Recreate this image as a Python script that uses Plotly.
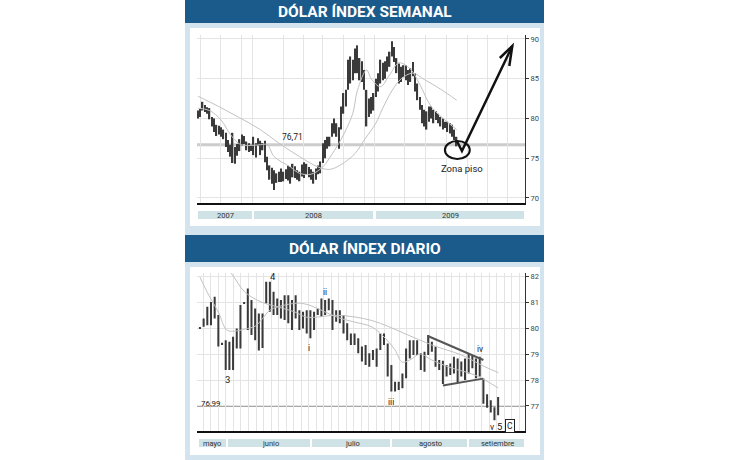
import plotly.graph_objects as go

W, H = 730, 460

# ---------------- DATA: weekly panel ----------------
weekly_high = [81.0, 81.2, 82.1, 81.7, 81.4, 81.3, 80.2, 80.0, 79.2, 79.1, 78.9, 78.6, 78.2, 77.3, 76.7, 78.2,
               76.4, 76.8, 77.4, 78.0, 77.8, 77.1, 76.9, 76.7, 77.7, 76.9, 77.5, 77.2, 76.9, 77.2, 75.2, 74.1,
               73.8, 73.5, 73.1, 73.3, 73.7, 73.3, 73.6, 74.1, 73.9, 74.3, 74.0, 73.5, 73.3, 74.2, 74.5, 74.3,
               73.9, 73.6, 73.3, 73.7, 74.1, 74.6, 76.9, 77.3, 77.7, 77.7, 79.4, 80.0, 79.4, 78.9, 81.5, 83.2,
               83.6, 87.4, 87.8, 87.4, 88.8, 89.2, 87.6, 87.2, 86.1, 83.6, 82.5, 82.7, 83.2, 85.0, 85.7, 87.4,
               87.0, 87.2, 87.8, 88.4, 89.7, 89.0, 87.6, 86.9, 86.5, 86.7, 86.7, 86.1, 86.3, 87.1, 85.7, 84.4,
               82.7, 81.7, 81.1, 80.9, 81.5, 81.5, 81.1, 80.9, 80.6, 80.2, 80.0, 79.6, 79.6, 79.4, 79.2, 78.6,
               77.7]
weekly_low = [80.0, 80.2, 81.0, 80.8, 80.6, 79.9, 79.0, 78.3, 77.8, 78.0, 77.7, 77.4, 76.4, 75.8, 75.2, 74.4,
              74.3, 75.3, 75.9, 76.6, 76.8, 76.0, 75.8, 75.9, 75.4, 75.1, 76.6, 75.4, 76.0, 74.5, 73.5, 72.3,
              71.8, 71.0, 71.9, 72.0, 72.0, 72.1, 72.4, 72.2, 71.8, 72.6, 72.5, 72.3, 72.1, 72.7, 72.5, 73.0,
              72.6, 72.3, 71.8, 72.3, 73.0, 73.1, 74.4, 75.0, 76.2, 76.5, 77.7, 78.1, 77.7, 76.2, 78.6, 80.6,
              81.5, 83.6, 84.4, 84.8, 85.7, 85.7, 84.8, 84.6, 83.6, 79.0, 80.2, 80.6, 81.0, 82.7, 83.4, 84.4,
              84.8, 85.0, 85.9, 86.5, 87.8, 87.1, 85.7, 84.4, 84.6, 85.2, 84.8, 84.2, 84.6, 85.3, 83.4, 82.3,
              81.1, 79.4, 79.0, 78.6, 79.6, 80.0, 79.4, 79.8, 79.4, 79.0, 78.6, 78.8, 78.3, 78.1, 77.7, 77.3,
              76.5]
weekly_ma_slow_week = [0, 9, 18, 27, 35, 44, 52, 57, 62, 68, 72, 77, 80, 84, 88, 93, 98, 105, 112]
weekly_ma_slow = [82.8, 81.5, 80.1, 78.6, 76.9, 75.2, 73.9, 73.6, 74.2, 75.6, 77.3, 79.4, 81.3, 83.5, 85.0,
                  85.7, 84.9, 83.7, 82.3]
weekly_ma_fast_week = [0, 5, 10, 14, 18, 22, 27, 30, 33, 40, 44, 49, 54, 58, 62, 67, 69, 73, 75, 79, 83, 87,
                       92, 96, 101, 107, 112]
weekly_ma_fast = [81.3, 81.0, 79.8, 78.0, 76.8, 76.6, 76.7, 76.7, 75.2, 73.9, 73.1, 73.0, 73.9, 75.5, 77.4,
                  80.6, 83.5, 86.1, 85.0, 84.0, 85.5, 87.0, 86.2, 84.3, 81.5, 79.8, 78.6]
weekly_support = 76.71
weekly_ticks = [70, 75, 80, 85, 90]
weekly_years = ["2007", "2008", "2009"]

# ---------------- DATA: daily panel ----------------
daily_high = [80.06, 80.39, 80.84, 81.03, 81.23, 80.52, 79.45, 79.55, 79.49, 79.68, 80.00, 80.91, 81.03, 81.55,
              81.10, 80.78, 80.58, 80.58, 81.81, 81.81, 81.42, 81.16, 81.10, 81.29, 81.29, 81.10, 81.29, 80.71,
              80.65, 80.71, 80.71, 80.65, 80.78, 81.16, 81.10, 81.16, 81.10, 80.71, 80.71, 80.52, 80.20, 79.81,
              79.81, 79.62, 79.30, 79.36, 79.04, 79.17, 79.23, 79.81, 79.81, 79.42, 78.59, 77.94, 77.94, 78.26,
              79.23, 79.55, 79.55, 79.55, 79.04, 79.10, 79.75, 79.49, 79.30, 78.78, 78.75, 78.59, 78.65, 78.91,
              78.84, 78.72, 78.84, 79.04, 78.97, 78.84, 78.91, 78.06, 77.45, 77.22, 76.95, 77.35]
daily_low = [80.00, 80.07, 80.13, 80.13, 80.39, 79.30, 79.39, 78.39, 78.39, 78.39, 79.23, 79.23, 80.97, 79.94,
             79.75, 79.55, 79.15, 79.25, 80.97, 80.65, 80.52, 80.52, 80.39, 80.33, 80.20, 79.94, 80.39, 79.94,
             80.00, 79.81, 79.62, 79.94, 80.52, 80.46, 80.52, 80.71, 79.94, 80.26, 80.20, 79.81, 79.55, 79.36,
             79.36, 79.04, 78.72, 78.59, 78.52, 78.78, 78.52, 79.17, 79.36, 78.14, 77.56, 77.56, 77.62, 77.69,
             78.07, 78.84, 78.97, 78.97, 78.39, 78.33, 78.97, 79.10, 78.52, 78.39, 77.85, 78.14, 78.20, 78.26,
             77.88, 78.14, 78.01, 78.26, 78.46, 78.07, 78.14, 77.09, 76.93, 76.75, 76.45, 76.64]
daily_ma_slow_day = [6, 8.6, 12.2, 16.8, 21.3, 25.8, 29.0, 37.6, 46.7, 55.7, 63.0, 71.1, 77.4, 81.1]
daily_ma_slow = [82.5, 82.12, 81.41, 81.02, 80.83, 80.64, 80.44, 80.51, 80.31, 79.80, 79.36, 78.97, 78.52, 78.29]
daily_ma_fast_day = [0, 2.4, 5, 7.3, 9.5, 12.2, 15, 17.1, 19, 23.1, 27.2, 30.4, 34, 38, 42, 46.7, 50.3, 53,
                     54.9, 57, 59.8, 63, 68.4, 74.7, 81]
daily_ma_fast = [81.99, 81.29, 80.64, 79.94, 79.90, 79.98, 80.09, 80.40, 80.71, 80.91, 80.98, 80.87, 80.64,
                 80.40, 80.25, 80.06, 79.63, 79.17, 78.70, 78.78, 79.01, 78.78, 78.47, 78.20, 77.70]
daily_support = 76.99
daily_ticks = [77, 78, 79, 80, 81, 82]
daily_months = ["mayo", "junio", "julio", "agosto", "setiembre"]
daily_wave_labels = ["3", "4", "i", "ii", "iii", "iv", "v", "5"]
daily_wave_day = [7.4, 19.9, 29.6, 34.0, 51.8, 76.1, 79.4, 81.4]
daily_wave_value = [78.03, 82.0, 79.23, 81.42, 77.17, 79.19, 76.2, 76.2]

# ---------------- LAYOUT HELPERS ----------------
def pxx(x):
    return x / W

def pxy(y):
    return 1 - y / H

FONT = "Roboto, Liberation Sans, sans-serif"
BLUE = "#1b5b8b"
FRAME = "#d3e4ee"
BAND = "#cfe2e5"
BAR = "#3a3a3a"
MA = "#c2c2c2"
GRID = "#e4e4e4"

fig = go.Figure()

# weekly traces
wx = list(range(len(weekly_high)))
fig.add_trace(go.Scatter(x=weekly_ma_slow_week, y=weekly_ma_slow, mode="lines",
                         line=dict(color=MA, width=1, shape="spline"), xaxis="x", yaxis="y",
                         hoverinfo="skip"))
fig.add_trace(go.Scatter(x=weekly_ma_fast_week, y=weekly_ma_fast, mode="lines",
                         line=dict(color=MA, width=1, shape="spline"), xaxis="x", yaxis="y",
                         hoverinfo="skip"))
fig.add_trace(go.Bar(x=wx, base=weekly_low, y=[h - l for h, l in zip(weekly_high, weekly_low)],
                     width=0.6, marker=dict(color=BAR, line=dict(width=0)), xaxis="x", yaxis="y"))

# daily traces
dx = list(range(len(daily_high)))
fig.add_trace(go.Scatter(x=daily_ma_slow_day, y=daily_ma_slow, mode="lines",
                         line=dict(color=MA, width=1, shape="spline"), xaxis="x2", yaxis="y2",
                         hoverinfo="skip"))
fig.add_trace(go.Scatter(x=daily_ma_fast_day, y=daily_ma_fast, mode="lines",
                         line=dict(color=MA, width=1, shape="spline"), xaxis="x2", yaxis="y2",
                         hoverinfo="skip"))
fig.add_trace(go.Bar(x=dx, base=daily_low, y=[max(h - l, 0.05) for h, l in zip(daily_high, daily_low)],
                     width=0.55, marker=dict(color=BAR, line=dict(width=0)), xaxis="x2", yaxis="y2"))

# ---------------- SHAPES ----------------
shapes = []

def rect(x0, y0, x1, y1, color):
    shapes.append(dict(type="rect", xref="paper", yref="paper", x0=pxx(x0), x1=pxx(x1),
                       y0=pxy(y1), y1=pxy(y0), fillcolor=color, line=dict(width=0), layer="below"))

rect(185, 0, 544, 23, BLUE)
rect(185, 23, 544, 235, FRAME)
rect(190, 28, 540, 226, "white")
rect(185, 235, 544, 262, BLUE)
rect(185, 262, 544, 460, FRAME)
rect(190, 267, 540, 455, "white")

# year bands (weekly)
for x0, x1 in [(198, 252), (254, 373), (376, 524)]:
    rect(x0, 211, x1, 219, BAND)
# month bands (daily)
for x0, x1 in [(199, 226), (228, 310), (312, 390), (392, 467), (469, 524)]:
    rect(x0, 439, x1, 447, BAND)

# support lines
shapes.append(dict(type="line", xref="x domain", yref="y", x0=0, x1=1, y0=weekly_support, y1=weekly_support,
                   line=dict(color="#cccccc", width=3), layer="below"))
shapes.append(dict(type="line", xref="x2 domain", yref="y2", x0=0, x1=1, y0=daily_support, y1=daily_support,
                   line=dict(color="#8a8a8a", width=1), layer="below"))

# ellipse + arrow (weekly)
shapes.append(dict(type="circle", xref="x", yref="y", x0=106.9, x1=117.7, y0=74.91, y1=77.17,
                   line=dict(color="#111", width=2)))
shapes.append(dict(type="path", xref="x", yref="y",
                   path="M 112.1,77.17 L 114.3,75.91 L 136.1,89.12",
                   line=dict(color="#111", width=2.5)))
shapes.append(dict(type="path", xref="x", yref="y",
                   path="M 130.7,87.61 L 136.1,89.12 L 134.8,86.60",
                   line=dict(color="#111", width=2.5)))

# triangle (daily)
shapes.append(dict(type="line", xref="x2", yref="y2", x0=61.9, y0=79.71, x1=77.0, y1=78.78,
                   line=dict(color="#555", width=2)))
shapes.append(dict(type="line", xref="x2", yref="y2", x0=66.0, y0=77.79, x1=76.9, y1=78.06,
                   line=dict(color="#555", width=2)))

# ---------------- ANNOTATIONS ----------------
ann = []

def note(text, xref, yref, x, y, size, color="#222", **kw):
    d = dict(text=text, xref=xref, yref=yref, x=x, y=y, showarrow=False, xanchor="center",
             yanchor="middle", font=dict(family=FONT, size=size, color=color))
    d.update(kw)
    ann.append(d)

note("<b>DÓLAR ÍNDEX SEMANAL</b>", "paper", "paper", pxx(364.5), pxy(11.5), 15.5, "white")
note("<b>DÓLAR ÍNDEX DIARIO</b>", "paper", "paper", pxx(364.5), pxy(249), 15.5, "white")

for lab, cx in zip(weekly_years, [225, 313, 450]):
    note(lab, "paper", "paper", pxx(cx), pxy(215), 7.5, "#333")
for lab, cx in zip(daily_months, [212, 270, 352, 430, 497]):
    note(lab, "paper", "paper", pxx(cx), pxy(443), 7.5, "#333")

note("76,71", "x", "y", 41.1, 77.67, 8.5)
note("Zona piso", "x", "y", 114.3, 73.77, 9.5)
note("76,99", "x2", "y2", 3.0, 77.11, 8)
for lab, d, v in zip(daily_wave_labels, daily_wave_day, daily_wave_value):
    note(lab, "x2", "y2", d, v, 9.5 if lab in ("3", "4", "5") else 8.5)
note("C", "x2", "y2", 84.2, 76.23, 8.5, bordercolor="#222", borderwidth=1, borderpad=1, bgcolor="white")

# ---------------- AXES ----------------
tickfont = dict(family=FONT, size=7.5, color="#444")
week_grid = [0.9, 9.9, 19, 23.8, 37.2, 45.5, 54, 63.2, 72.3, 76.6, 89.6, 98.3, 107.8, 116.5, 125.5, 134.2]

fig.update_layout(
    width=W, height=H, margin=dict(l=0, r=0, t=0, b=0),
    paper_bgcolor="white", plot_bgcolor="white", showlegend=False, barmode="overlay",
    shapes=shapes, annotations=ann,
    xaxis=dict(domain=[pxx(197), pxx(525)], range=[-0.43, 141.6], anchor="y",
               tickvals=week_grid, showticklabels=False, ticks="", showgrid=True, gridcolor=GRID,
               gridwidth=1, zeroline=False, showline=True, linecolor="#111", linewidth=1.5),
    yaxis=dict(domain=[pxy(203), pxy(35)], range=[69.37, 90.5], anchor="x", side="right",
               tickvals=weekly_ticks, showgrid=True, gridcolor=GRID, zeroline=False,
               showline=True, linecolor="#333", linewidth=1, ticks="outside", ticklen=3,
               tickcolor="#333", tickfont=tickfont),
    xaxis2=dict(domain=[pxx(197), pxx(525)], range=[-0.8, 88.3], anchor="y2",
                tick0=50, dtick=2.045, showticklabels=False, ticks="", showgrid=True, gridcolor=GRID,
                zeroline=False, showline=True, linecolor="#111", linewidth=1.5),
    yaxis2=dict(domain=[pxy(431.3), pxy(273)], range=[76.02, 82.15], anchor="x2", side="right",
                tickvals=daily_ticks, showgrid=True, gridcolor=GRID, zeroline=False,
                showline=True, linecolor="#333", linewidth=1, ticks="outside", ticklen=3,
                tickcolor="#333", tickfont=tickfont),
)

fig.write_html("out.html", config={"displayModeBar": False},
               post_script="document.body.style.margin='0';")
